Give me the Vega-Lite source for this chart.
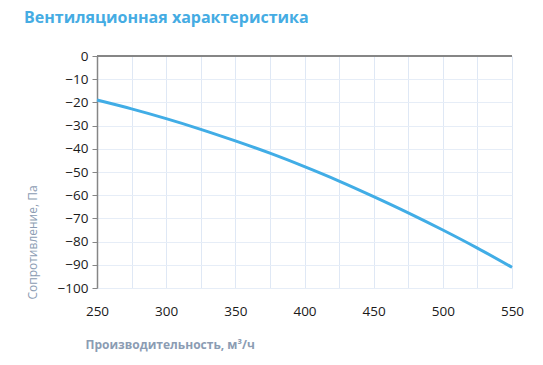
{
  "$schema": "https://vega.github.io/schema/vega-lite/v6.json",
  "width": 415,
  "height": 232,
  "autosize": {"type": "none"},
  "padding": {"left": 97, "top": 56, "right": 31, "bottom": 77},
  "background": "white",
  "title": {
    "text": "Вентиляционная характеристика",
    "anchor": "start",
    "frame": "group",
    "dx": -73,
    "offset": 23,
    "font": "Open Sans",
    "fontSize": 16,
    "fontWeight": "bold",
    "color": "#45ace3"
  },
  "data": {
    "values": [
      {"q": 250, "p": -19.0},
      {"q": 275, "p": -22.8},
      {"q": 300, "p": -27.0},
      {"q": 325, "p": -31.6},
      {"q": 350, "p": -36.6},
      {"q": 375, "p": -41.9},
      {"q": 400, "p": -47.7},
      {"q": 425, "p": -53.9},
      {"q": 450, "p": -60.6},
      {"q": 475, "p": -67.6},
      {"q": 500, "p": -75.0},
      {"q": 525, "p": -82.8},
      {"q": 550, "p": -91.1}
    ]
  },
  "config": {
    "view": {"stroke": null},
    "axis": {
      "labelFont": "Open Sans",
      "labelFontSize": 13.5,
      "labelColor": "#1a1a1a",
      "gridColor": "#dfe8f5",
      "gridWidth": 1,
      "titleFont": "Open Sans",
      "titleColor": "#8b9cb3"
    },
    "axisY": {
      "values": [0, -10, -20, -30, -40, -50, -60, -70, -80, -90, -100],
      "domainColor": "#868686",
      "domainWidth": 1.5,
      "tickColor": "#868686",
      "tickSize": 5,
      "labelPadding": 4,
      "titleFontSize": 12,
      "titleFontWeight": "normal",
      "titleAngle": -90,
      "titleAlign": "center",
      "titleBaseline": "middle",
      "titleX": -65,
      "titleY": 186,
      "gridColor": "#e6edf7"
    }
  },
  "layer": [
    {
      "mark": {"type": "line", "color": "#41ade6", "strokeWidth": 3, "interpolate": "monotone"},
      "encoding": {
        "x": {
          "field": "q",
          "type": "quantitative",
          "scale": {"domain": [250, 550], "nice": false, "zero": false},
          "axis": {
            "values": [250, 275, 300, 325, 350, 375, 400, 425, 450, 475, 500, 525, 550],
            "labelExpr": "datum.value % 50 == 0 ? datum.label : ''",
            "domain": false,
            "ticks": false,
            "labelPadding": 16,
            "labelFlush": false,
            "title": "Производительность, м³/ч",
            "titleFontSize": 12,
            "titleFontWeight": "bold",
            "titleAnchor": "start",
            "titleAlign": "left",
            "titleBaseline": "middle",
            "titleX": -12,
            "titleY": 56
          }
        },
        "y": {
          "field": "p",
          "type": "quantitative",
          "scale": {"domain": [-100, 0], "nice": false},
          "axis": {
            "values": [0, -10, -20, -30, -40, -50, -60, -70, -80, -90, -100],
            "title": "Сопротивление, Па"
          }
        }
      }
    },
    {
      "mark": {"type": "rule", "color": "#868686", "strokeWidth": 1.5},
      "encoding": {
        "y": {
          "datum": 0,
          "type": "quantitative",
          "axis": {
            "values": [0, -10, -20, -30, -40, -50, -60, -70, -80, -90, -100],
            "title": "Сопротивление, Па"
          }
        }
      }
    }
  ]
}
